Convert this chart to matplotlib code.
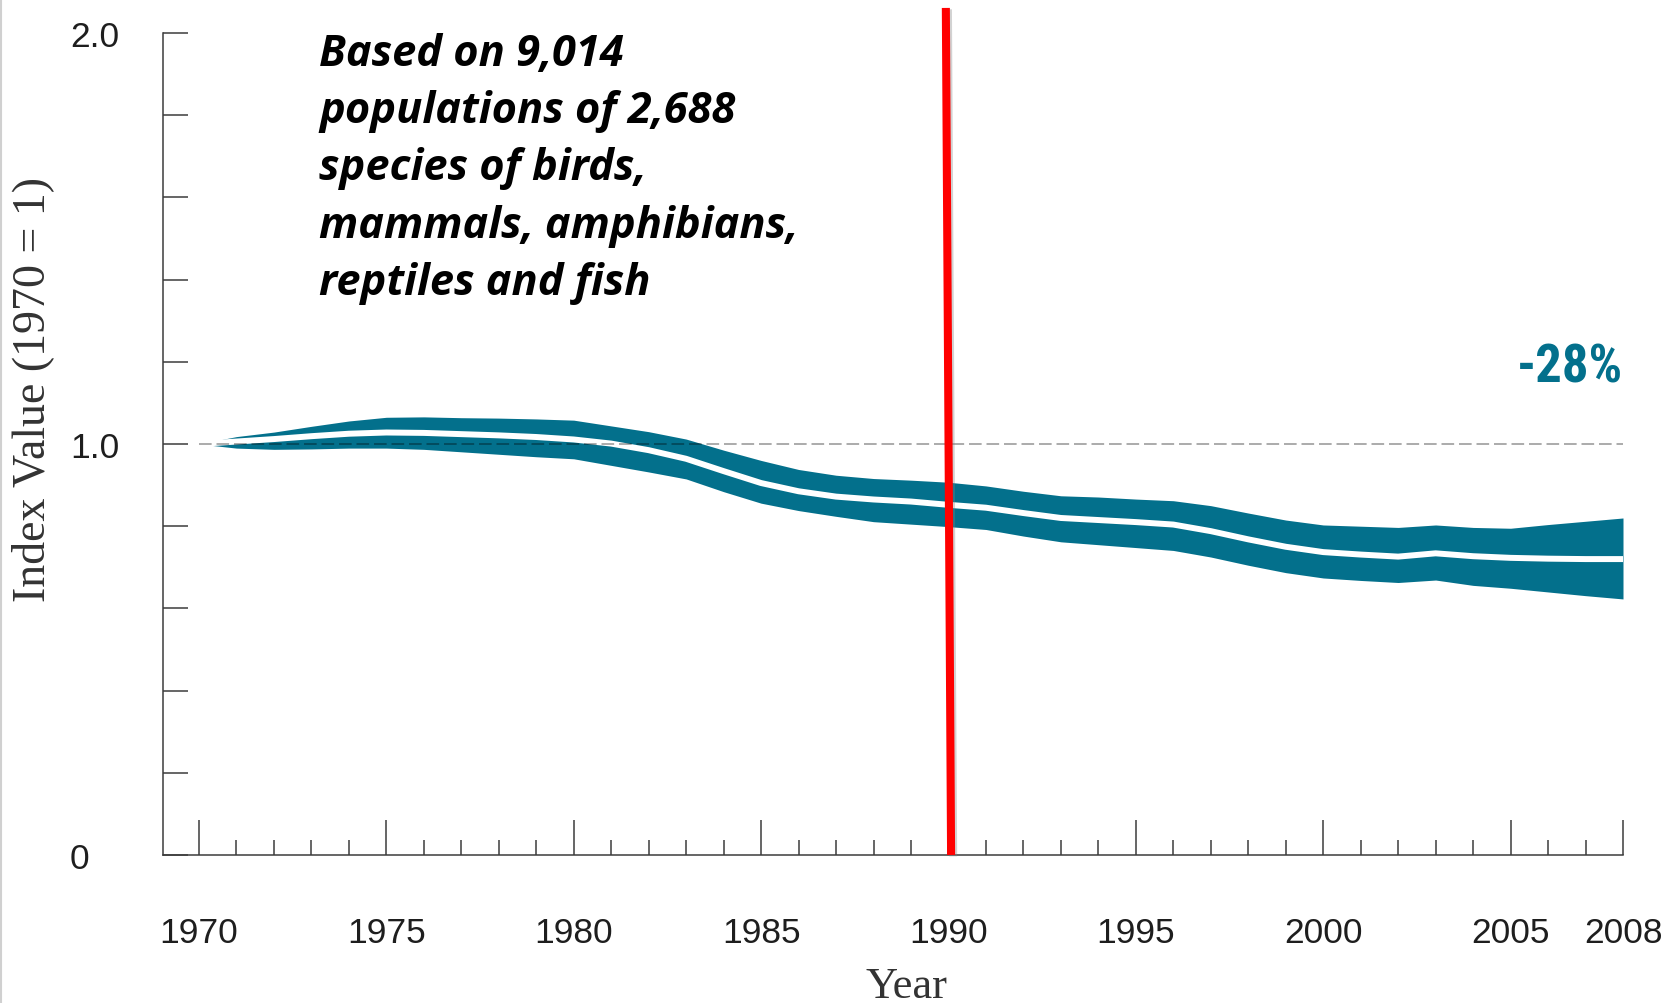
import matplotlib
matplotlib.use("Agg")
import matplotlib.pyplot as plt
import matplotlib.patheffects as pe
from matplotlib.lines import Line2D

# Living Planet Index, 1970-2008 (1970 = 1), with confidence band
years = list(range(1970, 2009))
index_value = [1.000, 1.006, 1.012, 1.019, 1.025, 1.028, 1.027, 1.024, 1.021, 1.017,
               1.011, 1.001, 0.985, 0.964, 0.934, 0.905, 0.885, 0.872, 0.865, 0.860,
               0.852, 0.845, 0.832, 0.820, 0.815, 0.810, 0.804, 0.788, 0.768, 0.750,
               0.737, 0.731, 0.726, 0.734, 0.727, 0.723, 0.721, 0.720, 0.720]
upper_ci = [1.000, 1.018, 1.029, 1.043, 1.056, 1.065, 1.066, 1.064, 1.063, 1.061,
            1.058, 1.044, 1.030, 1.012, 0.985, 0.960, 0.938, 0.924, 0.916, 0.912,
            0.907, 0.898, 0.885, 0.874, 0.871, 0.866, 0.862, 0.850, 0.832, 0.815,
            0.803, 0.800, 0.797, 0.803, 0.797, 0.795, 0.804, 0.812, 0.820]
lower_ci = [1.000, 0.990, 0.987, 0.988, 0.990, 0.990, 0.987, 0.981, 0.975, 0.969,
            0.964, 0.948, 0.932, 0.915, 0.884, 0.856, 0.838, 0.824, 0.811, 0.805,
            0.799, 0.792, 0.776, 0.762, 0.755, 0.748, 0.741, 0.725, 0.705, 0.687,
            0.674, 0.668, 0.663, 0.669, 0.656, 0.649, 0.640, 0.631, 0.623]

x_major = [1970, 1975, 1980, 1985, 1990, 1995, 2000, 2005, 2008]
x_labels = ["1970", "1975", "1980", "1985", "1990", "1995", "2000", "2005", "2008"]
y_ticks = [0.0, 0.2, 0.4, 0.6, 0.8, 1.0, 1.2, 1.4, 1.6, 1.8, 2.0]
y_labels = ["0", "", "", "", "", "1.0", "", "", "", "", "2.0"]
marker_year = 1990

note = ("Based on 9,014\n"
        "populations of 2,688\n"
        "species of birds,\n"
        "mammals, amphibians,\n"
        "reptiles and fish")

TEAL = "#03708c"
AXIS = "#3c3c3c"

fig = plt.figure(figsize=(16.76, 10.04), dpi=100)
fig.patch.set_facecolor("white")
ax = fig.add_axes([163 / 1676, 148 / 1004, 1460 / 1676, 822 / 1004])

# confidence band and index line
ax.fill_between(years, lower_ci, upper_ci, color=TEAL, lw=0, zorder=2)
ax.plot(years, index_value, color="white", lw=4.3, solid_capstyle="butt",
        solid_joinstyle="round", zorder=3)

# baseline at 1970 level
ax.plot([years[0], years[-1]], [1.0, 1.0], color="black", alpha=0.33, lw=1.4,
        dashes=(6.5, 2.5), zorder=4)

# change over the period
change = (index_value[-1] - index_value[0]) / index_value[0] * 100
ax.text(years[-1], 1.153, f"{change:.0f}%", ha="right", va="baseline",
        color=TEAL, fontsize=38, fontweight="bold",
        family=["Roboto Condensed", "Roboto", "DejaVu Sans"], zorder=5)

# marker at 1990
ax.plot([marker_year + 0.07, marker_year - 0.07], [0.0, 2.061], color="#ff0000",
        lw=5.8, solid_capstyle="butt", clip_on=False, zorder=6,
        path_effects=[pe.SimpleLineShadow(offset=(1.5, -1), shadow_color="gray",
                                          alpha=0.35), pe.Normal()])

ax.set_xlim(1969.04, 2008)
ax.set_ylim(0, 2.0)

for s in ("top", "right"):
    ax.spines[s].set_visible(False)
for s in ("left", "bottom"):
    ax.spines[s].set_color(AXIS)
    ax.spines[s].set_linewidth(1.1)

ax.set_xticks(x_major)
ax.set_xticklabels(x_labels, family="Liberation Sans", fontsize=25.5, color="#1e1e1e")
ax.set_xticks([y for y in years if y not in x_major], minor=True)
ax.tick_params(axis="x", which="major", direction="in", length=25, width=1.1,
               color=AXIS, pad=44)
ax.tick_params(axis="x", which="minor", direction="in", length=11, width=1.1,
               color=AXIS)

ax.set_yticks(y_ticks)
ax.set_yticklabels(y_labels, family="Liberation Sans", fontsize=25.5, color="#1e1e1e")
for lab in ax.get_yticklabels():
    lab.set_horizontalalignment("left")
ax.tick_params(axis="y", which="major", direction="in", length=18, width=1.1,
               color=AXIS, pad=67)

ax.set_xlabel("Year", family="Liberation Serif", fontsize=32, color="#333333",
              va="baseline")
ax.xaxis.set_label_coords((906 - 163) / 1460, (856 - 998) / 822)
ax.set_ylabel("Index Value (1970 = 1)", family="Liberation Serif", fontsize=33,
              color="#333333", va="center")
ax.yaxis.set_label_coords((33 - 163) / 1460, (856 - 390) / 822)

fig.text(319 / 1676, 1 - 33 / 1004, note, ha="left", va="top",
         family=["Open Sans", "Lato", "DejaVu Sans"], style="italic",
         fontweight="bold", fontsize=31.2, linespacing=1.43, color="black")

# thin frame line at the left edge
fig.add_artist(Line2D([1 / 1676, 1 / 1676], [0, 1], transform=fig.transFigure,
                      color="#d0d0d0", lw=1.5))

fig.savefig("out.png", dpi=100, facecolor="white")
